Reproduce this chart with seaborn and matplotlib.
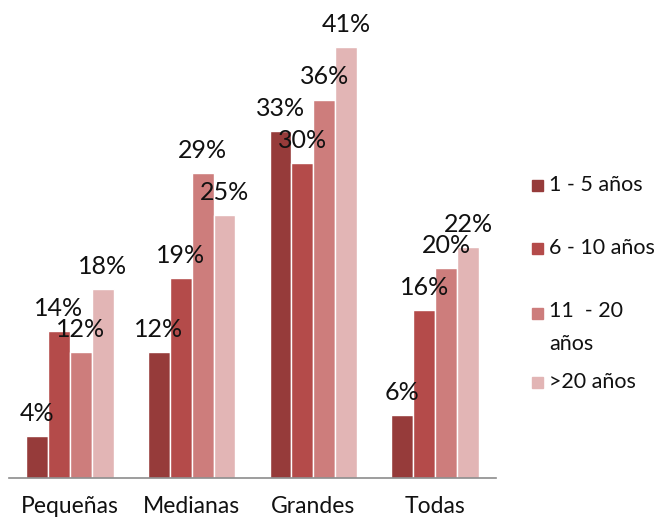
import matplotlib
matplotlib.use("Agg")
import matplotlib.pyplot as plt
import seaborn as sns
import pandas as pd
from matplotlib.patches import Rectangle

categories = ["Pequeñas", "Medianas", "Grandes", "Todas"]
series = ["1 - 5 años", "6 - 10 años", "11  - 20\naños", ">20 años"]
v_1_5 = [4, 12, 33, 6]
v_6_10 = [14, 19, 30, 16]
v_11_20 = [12, 29, 36, 20]
v_20 = [18, 25, 41, 22]
colors = ["#963B3A", "#B44B4A", "#CD7D7C", "#E2B5B5"]

rows = []
for s, vals in zip(series, [v_1_5, v_6_10, v_11_20, v_20]):
    for c, v in zip(categories, vals):
        rows.append({"cat": c, "serie": s, "val": v})
df = pd.DataFrame(rows)

sns.set_theme(style="white")
plt.rcParams["font.family"] = ["Lato", "DejaVu Sans"]

fig = plt.figure(figsize=(6.6, 5.18), dpi=100)
ax = fig.add_axes([9/660, 40/518, 487/660, 473/518])

sns.barplot(data=df, x="cat", y="val", hue="serie", order=categories,
            hue_order=series, palette=colors, width=0.72, gap=0,
            saturation=1, ax=ax, legend=False, errorbar=None)

for cont in ax.containers:
    ax.bar_label(cont, labels=[f"{int(b.get_height())}%" for b in cont],
                 padding=8, fontsize=18, color="#111111")

ax.set_xlim(-0.5, 3.5)
ax.set_ylim(0, 45)
ax.set_xlabel("")
ax.set_ylabel("")
ax.set_yticks([])
for sp in ["left", "right", "top"]:
    ax.spines[sp].set_visible(False)
ax.spines["bottom"].set_color("#8C8C8C")
ax.spines["bottom"].set_linewidth(1.2)

ax.set_xticks([0, 1, 2, 3])
ax.set_xticklabels(categories, fontsize=16.5, color="#111111")
ax.tick_params(axis="x", length=0, pad=13)
ax.set_xticks([-0.5, 0.5, 1.5, 2.5, 3.5], minor=True)
ax.tick_params(axis="x", which="minor", length=6, color="#8C8C8C", width=1.2, direction="out")

# legend (manual)
leg_y = [185, 248, 313, 382]
for y, s, c in zip(leg_y, series, colors):
    fig.add_artist(Rectangle((532/660, 1 - (y + 6)/518), 11/660, 11/518,
                             transform=fig.transFigure, color=c))
    if "\n" in s:
        fig.text(549/660, 1 - (y - 12)/518, s, fontsize=15.5, va="top",
                 ha="left", color="#111111", linespacing=1.8)
    else:
        fig.text(549/660, 1 - y/518, s, fontsize=15.5, va="center",
                 ha="left", color="#111111")

fig.savefig("out.png", dpi=100, facecolor="white")
